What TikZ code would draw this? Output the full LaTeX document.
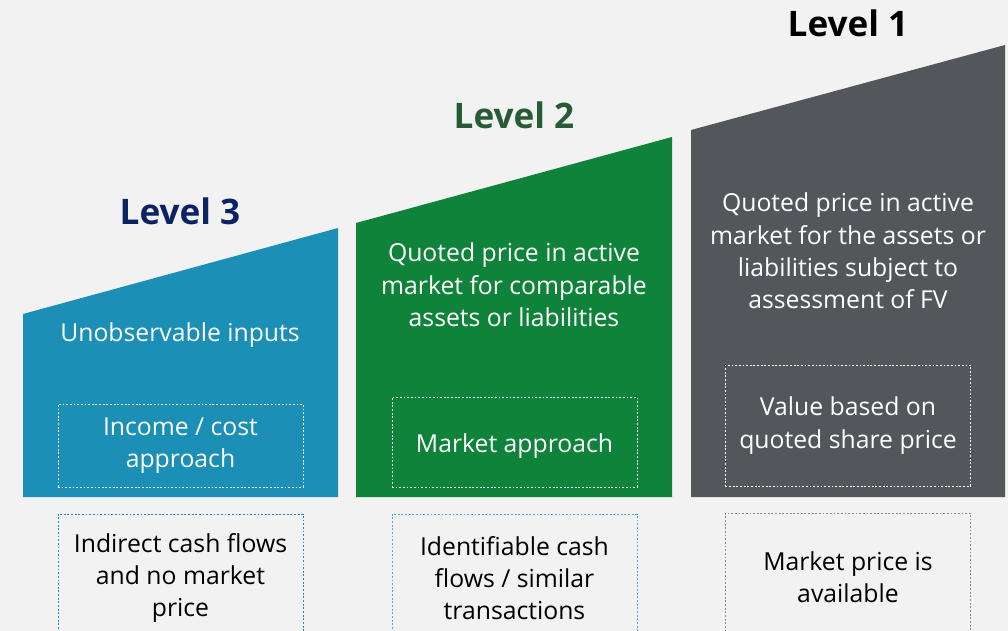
\documentclass[tikz,border=0pt]{standalone}
\usepackage{fontspec}
\setmainfont{Open Sans}
\usetikzlibrary{positioning}

\definecolor{pagebg}{HTML}{F2F2F2}
\definecolor{lvlblue}{HTML}{1B8FB5}
\definecolor{lvlgreen}{HTML}{10833A}
\definecolor{lvlgrey}{HTML}{53565B}
\definecolor{navy}{HTML}{0C2262}
\definecolor{darkgreen}{HTML}{275B35}
\definecolor{skyline}{HTML}{4AA9E2}
\definecolor{greyline}{HTML}{8C8C8C}

\begin{document}
\begin{tikzpicture}[x=0.025cm, y=-0.025cm,
    title/.style={font=\bfseries\fontsize{25}{30}\selectfont},
    body/.style={align=center, font=\fontsize{17.6}{23}\selectfont},
    approach/.style={body, draw=white, text=white, line width=0.6pt,
        dash pattern=on 1.3pt off 1.3pt, minimum width=6.125cm,
        execute at begin node={\rule{0pt}{19.5pt}}},
    basis/.style={body, line width=0.6pt, dash pattern=on 1.3pt off 1.3pt,
        minimum width=6.125cm, minimum height=3.2cm}]

    \fill[pagebg] (0,0) rectangle (1008,631);
    \useasboundingbox (0,0) rectangle (1008,631);
    \clip (0,0) rectangle (1008,631);

    % the three rising blocks
    \fill[lvlblue]  (23,497)  -- (23,314)  -- (338,228) -- (338,497) -- cycle;
    \fill[lvlgreen] (356,497) -- (356,223) -- (672,137) -- (672,497) -- cycle;
    \fill[lvlgrey]  (691,497) -- (691,130) -- (1005,45) -- (1005,497) -- cycle;

    % headings
    \node[title, text=navy]      (t3) at (180,211) {Level 3};
    \node[title, text=darkgreen] (t2) at (514,115) {Level 2};
    \node[title, text=black]     (t1) at (848,23)  {Level 1};

    % inputs
    \node[body, text=white] (in3) at (180,335) {Unobservable inputs};
    \node[body, text=white] (in2) at (514,285) {Quoted price in active\\market for comparable\\assets or liabilities};
    \node[body, text=white] (in1) at (848,251) {Quoted price in active\\market for the assets or\\liabilities subject to\\assessment of FV};

    % valuation approach
    \node[approach, minimum height=2.075cm] (ap3) at (180.5,445.5) {Income / cost\\approach};
    \node[approach, minimum height=2.25cm]  (ap2) at (514.5,442)   {Market approach};
    \node[approach, minimum height=3.025cm] (ap1) at (848,425.5)   {Value based on\\quoted share price};

    % what is observed
    \node[basis, draw=lvlblue]   (ob3) at (180.5,578) {Indirect cash flows\\and no market\\price};
    \node[basis, draw=skyline]   (ob2) at (514.5,578) {Identifiable cash\\flows / similar\\transactions};
    \node[basis, draw=greyline]  (ob1) at (848,577)   {Market price is\\available};
\end{tikzpicture}
\end{document}
